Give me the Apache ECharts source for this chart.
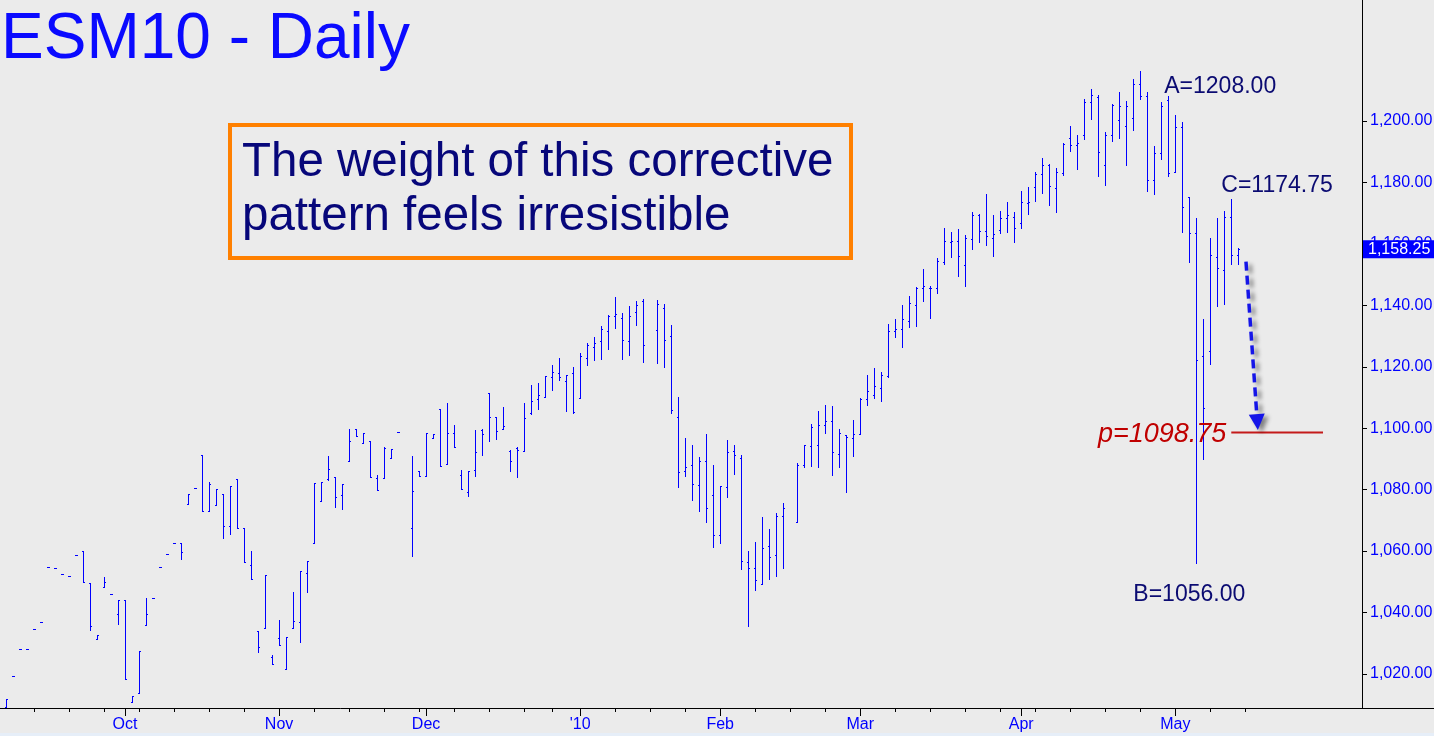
<!DOCTYPE html>
<html><head><meta charset="utf-8">
<script src="https://cdn.jsdelivr.net/npm/echarts@6/dist/echarts.min.js"></script>
<style>html,body{margin:0;padding:0;background:#ebebeb;overflow:hidden}#chart{width:1434px;height:736px}</style>
</head><body><div id="chart"></div>
<script>
// ---- Daily OHLC bars, ESM10 (index 0 = 8 Sep 2009, one slot per weekday; null = no session) ----
const opens = [1009.4,1019.25,1028.25,1028.25,1034.5,1037.0,1054.7,1054.5,1052.4,1051.8,
1058.6,1060.0,1049.5,1031.5,1048.2,1045.9,1039.4,1044.0,1011.0,1013.9,
1036.0,1044.6,1054.7,1059.0,1062.5,1062.5,1075.4,1080.4,1091.3,1073.0,
1074.9,1078.5,1068.1,1083.4,1067.5,1055.4,1034.0,1034.9,1025.6,1031.6,
1021.5,1034.9,1036.8,1052.8,1062.5,1076.2,1083.6,1084.0,1078.2,1089.2,
1099.7,1095.1,1095.7,1083.7,1083.7,1090.4,1098.9,null,1067.5,1086.1,
1084.5,1096.9,1106.2,1088.3,1098.3,1084.8,1079.1,1086.4,1099.4,1111.5,
1103.7,1099.6,1092.6,1093.5,1092.5,1105.1,1109.5,1110.3,1116.8,1118.0,
1115.4,1118.0,1109.7,1122.8,1126.3,1128.3,1131.5,1136.4,1135.8,1128.3,
1137.7,1141.4,null,1131.9,1139.0,1129.9,1103.6,1086.0,1087.9,1081.4,
1089.2,1078.2,1065.1,1080.8,1092.6,1090.2,1056.4,1054.4,1049.2,1061.6,
1058.6,1071.3,null,1069.6,1087.9,1094.2,1094.4,1101.0,1102.4,1091.5,
1097.8,1096.8,1098.1,1109.4,1110.7,1113.0,1116.9,1131.5,1132.2,1134.8,
1140.0,1145.5,1145.5,1145.5,1154.0,1160.5,1160.8,1153.0,1161.5,1169.4,
1164.1,1161.8,1164.4,1168.3,1168.8,1166.7,1173.2,1178.4,1182.7,1185.6,
1178.1,1183.2,1194.4,1192.1,1195.4,1206.1,1207.8,1185.6,1195.3,1200.2,
1198.4,1201.0,1212.1,1208.1,1180.8,1189.7,1207.0,1183.3,1198.2,1175.1,
1163.7,1123.4,1125.1,1155.7,1151.4,1168.7,1156.5];
const highs = [1011.8,1019.25,1028.25,1028.25,1034.5,1037.0,1054.7,1054.5,1052.4,1051.8,
1058.6,1060.0,1049.5,1032.6,1051.6,1045.9,1044.0,1044.0,1012.7,1027.4,
1044.6,1044.6,1054.7,1059.0,1062.5,1062.5,1078.6,1080.4,1091.3,1082.4,
1080.1,1078.5,1081.1,1083.4,1067.5,1060.0,1034.0,1052.2,1026.1,1037.6,
1031.9,1046.7,1053.5,1056.7,1082.1,1082.5,1091.0,1084.0,1081.7,1099.7,
1099.7,1098.3,1095.7,1084.7,1093.8,1093.1,1098.9,null,1091.0,1086.1,
1098.3,1098.0,1106.2,1108.1,1101.0,1086.4,1086.1,1099.4,1099.7,1111.5,
1103.7,1106.9,1092.9,1093.8,1108.2,1114.1,1114.7,1117.0,1120.6,1122.9,
1117.3,1119.9,1124.5,1127.7,1129.7,1133.3,1137.0,1142.7,1137.5,1139.8,
1141.4,1142.1,null,1141.7,1140.4,1133.6,1110.2,1096.8,1094.5,1090.6,
1098.1,1088.0,1081.2,1096.2,1094.5,1091.3,1060.0,1063.0,1071.1,1067.2,
1072.4,1075.7,null,1088.7,1094.5,1101.4,1105.6,1107.6,1107.2,1099.7,
1097.8,1102.7,1109.7,1117.3,1119.6,1118.3,1133.9,1135.6,1140.1,1143.0,
1146.0,1151.8,1146.3,1155.4,1165.2,1163.9,1164.8,1162.9,1170.4,1169.7,
1176.2,1169.4,1170.7,1173.6,1170.4,1177.2,1178.5,1183.4,1188.0,1185.9,
1184.6,1192.7,1198.4,1195.4,1207.2,1210.4,1208.5,1196.4,1205.5,1209.5,
1206.6,1213.6,1216.4,1209.6,1191.9,1206.1,1208.0,1202.0,1199.6,1175.1,
1168.5,1135.4,1162.0,1168.5,1170.8,1174.75,1158.5];
const lows = [1009.4,1019.25,1028.25,1028.25,1034.5,1037.0,1054.7,1054.5,1052.4,1051.8,
1058.6,1050.0,1034.3,1031.5,1048.2,1045.9,1036.4,1018.5,1011.0,1013.9,
1036.0,1044.6,1054.7,1059.0,1062.5,1057.5,1075.4,1080.4,1073.0,1073.0,
1074.9,1064.4,1065.7,1067.4,1056.5,1050.8,1027.2,1034.9,1023.2,1029.5,
1021.5,1034.9,1030.5,1046.6,1062.5,1076.2,1083.1,1074.5,1073.8,1089.2,
1097.4,1095.1,1084.0,1079.8,1083.7,1090.4,1098.9,null,1058.5,1084.5,
1084.5,1096.9,1087.8,1088.3,1093.8,1080.1,1078.0,1084.5,1091.4,1095.9,
1096.6,1099.6,1086.2,1084.2,1092.5,1104.7,1106.4,1110.3,1112.5,1115.8,
1105.7,1105.1,1109.7,1120.7,1122.1,1122.6,1125.9,1132.7,1122.6,1123.9,
1133.7,1121.7,null,1121.3,1120.0,1105.1,1081.0,1084.5,1076.7,1073.1,
1069.6,1061.4,1062.7,1077.7,1085.2,1054.3,1035.6,1047.4,1049.2,1051.0,
1052.0,1054.6,null,1069.6,1087.5,1087.7,1087.5,1098.5,1084.9,1087.5,
1079.3,1091.1,1098.1,1107.7,1109.9,1109.0,1116.6,1129.8,1126.5,1133.0,
1133.4,1141.5,1136.0,1144.1,1153.6,1155.8,1149.6,1146.4,1158.4,1160.7,
1159.7,1156.2,1163.6,1164.0,1160.7,1165.3,1169.8,1174.1,1176.7,1172.8,
1170.5,1182.5,1190.3,1184.5,1194.2,1200.8,1182.2,1179.3,1193.6,1194.5,
1185.8,1197.0,1207.3,1177.1,1176.4,1187.7,1182.2,1183.3,1163.9,1154.2,
1056.0,1090.0,1121.0,1139.9,1140.5,1153.3,1153.3];
const closes = [1011.8,1019.25,1028.25,1028.25,1034.5,1037.0,1054.7,1054.5,1052.4,1051.8,
1058.6,1050.0,1035.5,1032.6,1050.0,1045.9,1044.0,1018.5,1012.7,1027.4,
1039.4,1044.6,1054.7,1059.0,1062.5,1059.6,1078.6,1080.4,1073.0,1081.7,
1080.1,1068.3,1081.1,1067.4,1056.5,1050.8,1028.7,1052.2,1023.2,1029.5,
1031.9,1037.1,1053.5,1056.7,1082.1,1082.5,1086.6,1077.5,1081.7,1095.9,
1097.4,1098.3,1084.0,1079.8,1093.5,1093.1,1098.9,null,1079.6,1084.5,
1098.3,1098.0,1087.8,1098.3,1093.8,1080.1,1086.1,1092.2,1098.0,1103.7,
1099.0,1100.6,1089.2,1092.8,1103.3,1108.9,1110.8,1117.0,1118.3,1116.6,
1117.3,1105.4,1123.6,1127.0,1127.7,1132.2,1136.6,1137.1,1128.6,1136.4,
1140.1,1127.0,null,1140.3,1128.6,1105.8,1085.7,1087.4,1081.7,1089.2,
1074.0,1065.1,1081.2,1092.3,1091.2,1056.7,1054.4,1050.5,1060.9,1058.0,
1071.3,1074.0,null,1087.9,1094.5,1100.4,1101.0,1102.4,1092.3,1098.4,
1097.0,1098.1,1109.5,1112.0,1113.6,1117.3,1131.5,1132.2,1135.5,1140.7,
1145.5,1146.2,1145.5,1154.3,1160.8,1160.8,1156.0,1161.8,1169.4,1164.1,
1162.5,1163.1,1168.3,1169.4,1165.1,1173.5,1173.5,1182.7,1185.6,1178.8,
1183.3,1192.4,1192.1,1192.7,1206.1,1208.5,1189.9,1195.4,1205.2,1205.0,
1204.9,1212.1,1208.1,1180.8,1189.6,1205.0,1183.1,1198.2,1172.1,1163.7,
1122.2,1106.5,1156.5,1152.2,1168.7,1156.5,1158.25];

// ---- axis ticks / labels ----
const monthLabels = ['Oct','Nov','Dec',"'10",'Feb','Mar','Apr','May'];
const monthStartBars = [17,39,60,82,102,122,145,167];
const weekStartBars = [4,9,14,19,24,29,34,39,44,49,54,59,64,69,74,78,82,87,92,97,102,107,112,117,122,127,132,137,142,147,152,157,162,167,172,177];
const yTickValues = [1020,1040,1060,1080,1100,1120,1140,1160,1180,1200];

// ---- annotations ----
const lastPrice = 1158.25;
const pointA = {bar:166, value:1208.00, text:'A=1208.00'};
const pointB = {bar:170, value:1056.00, text:'B=1056.00'};
const pointC = {bar:175, value:1174.75, text:'C=1174.75'};
const target = {fromBar:175, toBar:188.1, value:1098.75, text:'p=1098.75'};
const projection = {from:[177.1, 1154.2], to:[178.8, 1099.4]};

const X_MIN = -0.857, X_MAX = 193.67, Y_MIN = 1008.92, Y_MAX = 1239.39;
const FONT = 'Arial, "Liberation Sans", sans-serif';
const BLUE = '#0000ff';

const ohlc = [];
opens.forEach((o, i) => { if (o != null) ohlc.push([i, o, highs[i], lows[i], closes[i]]); });

const fmt = v => Number(v).toLocaleString('en-US', {minimumFractionDigits:2, maximumFractionDigits:2});

const chart = echarts.init(document.getElementById('chart'), null, {renderer:'canvas'});
chart.setOption({
  animation: false,
  backgroundColor: '#ebebeb',
  grid: {left: 0, right: 72, top: 0, bottom: 28, containLabel: false, outerBoundsMode: 'none'},
  xAxis: [
    {type:'value', min:X_MIN, max:X_MAX, position:'bottom',
     axisLine:{show:true, onZero:false, lineStyle:{color:'#000', width:1}},
     axisTick:{show:true, length:4, lineStyle:{color:'#000'}, customValues: weekStartBars},
     axisLabel:{show:false}, splitLine:{show:false}},
    {type:'value', min:X_MIN, max:X_MAX, position:'bottom',
     axisLine:{show:false, onZero:false},
     axisTick:{show:true, length:8, lineStyle:{color:'#000'}, customValues: monthStartBars},
     axisLabel:{show:true, customValues: monthStartBars, margin:9, color:BLUE, fontSize:16, fontFamily:FONT,
       formatter: v => monthLabels[monthStartBars.indexOf(Math.round(v))] || ''},
     splitLine:{show:false}}
  ],
  yAxis: [
    {type:'value', min:Y_MIN, max:Y_MAX, position:'right',
     axisLine:{show:true, onZero:false, lineStyle:{color:'#000', width:1}},
     axisTick:{show:true, length:5, lineStyle:{color:'#000'}, customValues: yTickValues},
     axisLabel:{show:true, customValues: yTickValues, margin:8, color:BLUE, fontSize:16, fontFamily:FONT, formatter: fmt},
     splitLine:{show:false}},
    {type:'value', min:Y_MIN, max:Y_MAX, position:'right',
     axisLine:{show:false, onZero:false}, axisTick:{show:false}, splitLine:{show:false},
     axisLabel:{show:true, customValues:[lastPrice], margin:1, color:'#ffffff', fontSize:16, fontFamily:FONT,
       backgroundColor:BLUE, padding:[2,6,1,5], lineHeight:15, formatter: fmt}}
  ],
  series: [
    {type:'custom', name:'ESM10', xAxisIndex:0, yAxisIndex:0, data: ohlc,
     encode:{x:0, y:[1,2,3,4]},
     renderItem: (params, api) => {
       const i = api.value(0);
       const pO = api.coord([i, api.value(1)]);
       const pH = api.coord([i, api.value(2)]);
       const pL = api.coord([i, api.value(3)]);
       const pC = api.coord([i, api.value(4)]);
       const x = Math.round(pO[0]);
       const yH = Math.round(pH[1]), yL = Math.round(pL[1]);
       return {type:'group', children:[
         {type:'rect', shape:{x:x, y:yH, width:1, height:Math.max(1, yL - yH + 1)}, style:{fill:BLUE}},
         {type:'rect', shape:{x:x-1, y:Math.round(pO[1]), width:1, height:1}, style:{fill:BLUE}},
         {type:'rect', shape:{x:x+1, y:Math.round(pC[1]), width:1, height:1}, style:{fill:BLUE}}
       ]};
     }},
    {type:'custom', name:'annotations', xAxisIndex:0, yAxisIndex:0, data:[[pointA.bar, pointA.value]],
     silent:true, clip:false, z:5,
     renderItem: (params, api) => {
       const a = api.coord([pointA.bar, pointA.value]);
       const b = api.coord([pointB.bar, pointB.value]);
       const c = api.coord([pointC.bar, pointC.value]);
       const t0 = api.coord([target.fromBar, target.value]);
       const t1 = api.coord([target.toBar, target.value]);
       const s = api.coord(projection.from);
       const e = api.coord(projection.to);
       const dx = e[0]-s[0], dy = e[1]-s[1], len = Math.hypot(dx, dy), ux = dx/len, uy = dy/len;
       const headLen = 16, headW = 8;
       const base = [e[0]-ux*headLen, e[1]-uy*headLen];
       const navy = '#0b0b72', red = '#c00000', arrowBlue = '#1515e8';
       const shadow = {shadowColor:'rgba(0,0,0,0.45)', shadowBlur:4, shadowOffsetX:4, shadowOffsetY:3};
       const txt = (x, y, text, align, color, size, italic) => ({type:'text', x:x, y:y,
         style:{text:text, fill:color, fontSize:size, fontFamily:FONT, fontStyle: italic ? 'italic' : 'normal', align:align, verticalAlign:'middle'}});
       return {type:'group', children:[
         {type:'line', shape:{x1:t0[0], y1:t0[1]+0.5, x2:t1[0], y2:t1[1]+0.5}, style:{stroke:'#c41a1a', lineWidth:2}},
         {type:'line', shape:{x1:s[0], y1:s[1], x2:base[0], y2:base[1]}, style:Object.assign({stroke:arrowBlue, lineWidth:3.5, lineDash:[9,5]}, shadow)},
         {type:'polygon', shape:{points:[[e[0], e[1]], [base[0]-uy*headW, base[1]+ux*headW], [base[0]+uy*headW, base[1]-ux*headW]]}, style:Object.assign({fill:arrowBlue}, shadow)},
         txt(a[0]-4, a[1]-9.5, pointA.text, 'left', navy, 23),
         txt(c[0]-10, c[1]-12.6, pointC.text, 'left', navy, 23),
         txt(b[0]-7, b[1]+31.6, pointB.text, 'center', navy, 23),
         txt(t0[0]-5, t0[1]+2, target.text, 'right', red, 27, true)
       ]};
     }}
  ],
  graphic: [
    {type:'text', x:1, y:40, z:10, style:{text:'ESM10 - Daily', fill:'#0a0aff', fontSize:64, fontFamily:FONT, align:'left', verticalAlign:'middle'}},
    {type:'rect', z:10, shape:{x:230, y:125, width:621, height:133}, style:{fill:'#ebebeb', stroke:'#ff8000', lineWidth:4}},
    {type:'text', x:242, y:163, z:11, style:{text:'The weight of this corrective', fill:'#07077a', fontSize:47.5, fontFamily:FONT, align:'left', verticalAlign:'middle'}},
    {type:'text', x:242, y:217, z:11, style:{text:'pattern feels irresistible', fill:'#07077a', fontSize:47.5, fontFamily:FONT, align:'left', verticalAlign:'middle'}},
    {type:'line', z:10, shape:{x1:1362, y1:708.5, x2:1434, y2:708.5}, style:{stroke:'#000', lineWidth:1}},
    {type:'rect', z:10, shape:{x:0, y:733, width:1434, height:3}, style:{fill:'#e6eef8'}}
  ]
});
</script></body></html>
